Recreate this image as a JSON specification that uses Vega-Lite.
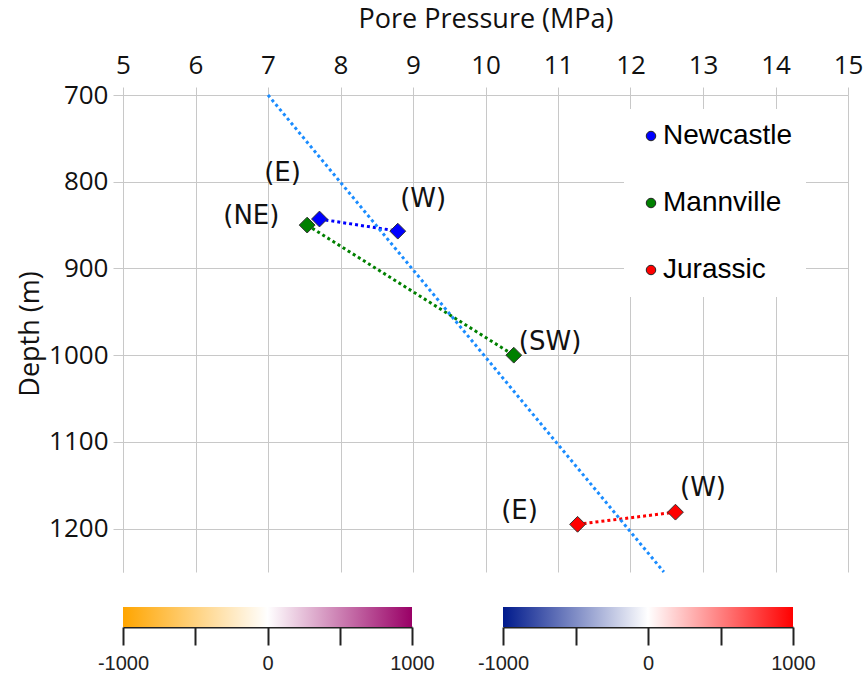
{
  "$schema": "https://vega.github.io/schema/vega-lite/v6.json",
  "background": "white",
  "padding": {"left": 16, "top": 5, "right": 5, "bottom": 5},
  "spacing": 29,
  "config": {
    "view": {"stroke": null},
    "axis": {"labelFont": "Open Sans", "titleFont": "Open Sans", "titleFontWeight": "normal", "labelColor": "#111", "titleColor": "#111"}
  },
  "datasets": {
    "series": [
      {"series": "Newcastle", "p": 7.71, "d": 843},
      {"series": "Newcastle", "p": 8.79, "d": 857},
      {"series": "Mannville", "p": 7.54, "d": 850},
      {"series": "Mannville", "p": 10.39, "d": 1000},
      {"series": "Jurassic", "p": 11.27, "d": 1195},
      {"series": "Jurassic", "p": 12.62, "d": 1181}
    ],
    "labels": [
      {"txt": "(E)", "p": 7.2, "d": 790},
      {"txt": "(W)", "p": 9.14, "d": 820},
      {"txt": "(NE)", "p": 6.77, "d": 840},
      {"txt": "(SW)", "p": 10.89, "d": 985},
      {"txt": "(E)", "p": 10.47, "d": 1180},
      {"txt": "(W)", "p": 13.0, "d": 1153}
    ],
    "hydro": [
      {"p": 7, "d": 700},
      {"p": 12.46, "d": 1250}
    ],
    "bar": [{"lo": -1000, "hi": 1000}]
  },
  "vconcat": [
    {
      "width": 725,
      "height": 477,
      "encoding": {
        "x": {"field": "p", "type": "quantitative",
          "scale": {"domain": [5, 15], "nice": false, "zero": false},
          "axis": {"orient": "top", "title": "Pore Pressure (MPa)", "values": [5,6,7,8,9,10,11,12,13,14,15],
            "grid": true, "gridColor": "#c8c8c8", "domainColor": "#c8c8c8", "tickColor": "#c8c8c8", "tickSize": 8,
            "labelFontSize": 26, "labelPadding": 8.5, "titleFontSize": 27, "titlePadding": 19, "labelFlush": false, "labelOverlap": false}},
        "y": {"field": "d", "type": "quantitative",
          "scale": {"domain": [700, 1250], "nice": false, "zero": false, "reverse": true},
          "axis": {"title": "Depth (m)", "values": [700,800,900,1000,1100,1200], "format": "d",
            "grid": true, "gridColor": "#c8c8c8", "domainColor": "#c8c8c8", "tickColor": "#c8c8c8", "tickSize": 10,
            "labelFontSize": 26, "labelPadding": 5, "titleFontSize": 27, "titlePadding": 4, "labelFlush": false}}
      },
      "layer": [
        {
          "data": {"name": "series"},
          "mark": {"type": "line", "strokeDash": [3, 3], "strokeWidth": 3},
          "encoding": {
            "stroke": {"field": "series", "type": "nominal",
              "scale": {"domain": ["Jurassic", "Mannville", "Newcastle"], "range": ["#ff0000", "#008000", "#0000ff"]},
              "legend": null},
            "detail": {"field": "series"}
          }
        },
        {
          "data": {"name": "hydro"},
          "mark": {"type": "line", "color": "#1a8cff", "strokeDash": [3, 3], "strokeWidth": 3},
          "encoding": {}
        },
        {
          "data": {"name": "series"},
          "mark": {"type": "point", "shape": "diamond", "filled": true, "size": 250, "opacity": 1, "stroke": "#333", "strokeWidth": 1},
          "encoding": {
            "fill": {"field": "series", "type": "nominal",
              "scale": {"domain": ["Newcastle", "Mannville", "Jurassic"], "range": ["#0000ff", "#008000", "#ff0000"]},
              "legend": {"title": null, "orient": "none", "legendX": 501, "legendY": 14, "direction": "vertical",
                "fillColor": "white", "padding": 13, "rowPadding": 39,
                "symbolType": "circle", "symbolSize": 90, "symbolStrokeColor": "#222", "symbolStrokeWidth": 1, "symbolOpacity": 1,
                "labelFont": "Liberation Sans", "labelFontSize": 28, "labelColor": "#000", "labelOffset": -2}}
          }
        },
        {
          "data": {"name": "labels"},
          "mark": {"type": "text", "font": "DejaVu Sans", "fontSize": 26, "color": "#111", "align": "center", "baseline": "middle"},
          "encoding": {"text": {"field": "txt"}}
        }
      ]
    },
    {
      "hconcat": [
        {
          "width": 289,
          "height": 20,
          "data": {"name": "bar"},
          "mark": {"type": "rect", "color": {"gradient": "linear", "stops": [
            {"offset": 0, "color": "#ffa500"}, {"offset": 0.5, "color": "#ffffff"}, {"offset": 1, "color": "#990066"}]}},
          "encoding": {
            "x": {"field": "lo", "type": "quantitative", "scale": {"domain": [-1000, 1000], "nice": false},
              "axis": {"title": null, "values": [-1000, -500, 0, 500, 1000],
                "labelExpr": "datum.value === -1000 ? '-1000' : datum.value === 0 ? '0' : datum.value === 1000 ? '1000' : ''",
                "tickSize": 18, "tickWidth": 2, "tickColor": "#222", "domainColor": "#222", "domainWidth": 2,
                "labelFont": "Liberation Sans", "labelFontSize": 20, "labelColor": "#222", "labelPadding": 8,
                "labelFlush": false, "labelOverlap": false, "grid": false}},
            "x2": {"field": "hi"}
          }
        },
        {
          "width": 290,
          "height": 20,
          "data": {"name": "bar"},
          "mark": {"type": "rect", "color": {"gradient": "linear", "stops": [
            {"offset": 0, "color": "#001a8c"}, {"offset": 0.5, "color": "#ffffff"}, {"offset": 1, "color": "#ff0000"}]}},
          "encoding": {
            "x": {"field": "lo", "type": "quantitative", "scale": {"domain": [-1000, 1000], "nice": false},
              "axis": {"title": null, "values": [-1000, -500, 0, 500, 1000],
                "labelExpr": "datum.value === -1000 ? '-1000' : datum.value === 0 ? '0' : datum.value === 1000 ? '1000' : ''",
                "tickSize": 18, "tickWidth": 2, "tickColor": "#222", "domainColor": "#222", "domainWidth": 2,
                "labelFont": "Liberation Sans", "labelFontSize": 20, "labelColor": "#222", "labelPadding": 8,
                "labelFlush": false, "labelOverlap": false, "grid": false}},
            "x2": {"field": "hi"}
          }
        }
      ],
      "spacing": 42
    }
  ]
}
